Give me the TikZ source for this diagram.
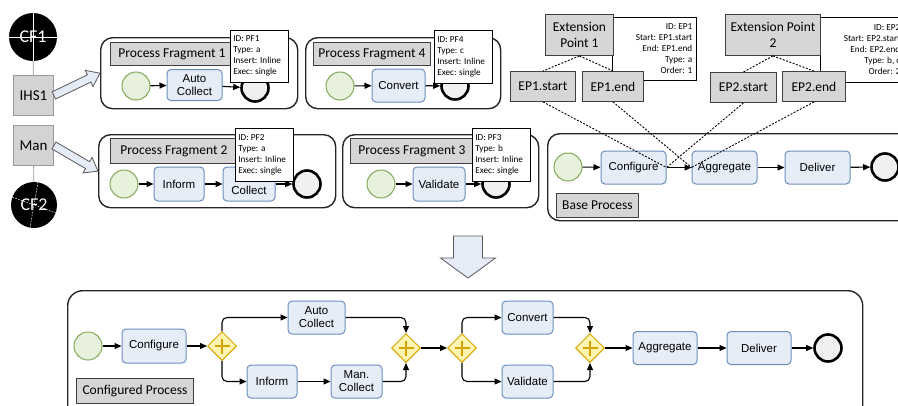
\documentclass[tikz,border=0pt]{standalone}
\usepackage{fontspec}
\setmainfont{Carlito}
\newfontfamily\arialfont{Liberation Sans}
\usetikzlibrary{arrows.meta,calc,shapes.geometric}

\definecolor{taskfill}{HTML}{E6EDF7}
\definecolor{taskline}{HTML}{6C8EBF}
\definecolor{startfill}{HTML}{E8F1DC}
\definecolor{startline}{HTML}{82A85A}
\definecolor{endfill}{HTML}{F0F0F0}
\definecolor{gwfill}{HTML}{FFF4B0}
\definecolor{gwline}{HTML}{D6A400}
\definecolor{lblfill}{HTML}{D6D6D6}
\definecolor{srcfill}{HTML}{D3D3D3}
\definecolor{srcline}{HTML}{999999}
\definecolor{arrowfill}{HTML}{E6ECF7}

% hollow block arrow: from, to, shaft half width, head half width, head length
\newcommand\hollowarrow[5]{%
  \draw[hollow] let \p1=(#1), \p2=(#2),
    \n1={atan2(\y2-\y1,\x2-\x1)}, \n2={veclen(\x2-\x1,\y2-\y1)} in
    ([shift={(\p1)},rotate=\n1]0pt,#3)
    -- ([shift={(\p1)},rotate=\n1]{\n2-#5},#3)
    -- ([shift={(\p1)},rotate=\n1]{\n2-#5},#4)
    -- ([shift={(\p1)},rotate=\n1]\n2,0pt)
    -- ([shift={(\p1)},rotate=\n1]{\n2-#5},-#4)
    -- ([shift={(\p1)},rotate=\n1]{\n2-#5},-#3)
    -- ([shift={(\p1)},rotate=\n1]0pt,-#3) -- cycle;}

\begin{document}
\begin{tikzpicture}[x=1pt, y=-1pt]

    \tikzset{frag/.style={%
      draw=black!85,%
      line width=1.4pt,%
      rounded corners=12pt,%
      fill=white,%
      anchor=north west,%
      inner sep=0pt}%
    };

    \tikzset{lbl/.style={draw=black!75, line width=0.9pt, fill=lblfill,
      anchor=north west, inner sep=0pt, align=center,
      font=\fontsize{13.5}{16}\selectfont}};
    \tikzset{src/.style={draw=srcline, line width=0.9pt, fill=srcfill,
      anchor=north west, inner sep=0pt, minimum width=40pt, minimum height=40pt,
      font=\fontsize{15}{17}\selectfont}};
    \tikzset{cfnode/.style={circle, fill=black, text=white, inner sep=0pt,
      font=\fontsize{18}{20}\selectfont}};
    \tikzset{task/.style={draw=taskline, line width=1pt, fill=taskfill,
      rounded corners=4pt, minimum height=33pt, inner sep=0pt, align=center,
      font=\arialfont\fontsize{11.5}{13}\selectfont}};
    \tikzset{startev/.style={circle, draw=startline, line width=1pt,
      fill=startfill, minimum size=28pt, inner sep=0pt}};
    \tikzset{endev/.style={circle, draw=black, line width=2.6pt,
      fill=endfill, minimum size=27pt, inner sep=0pt}};
    \tikzset{gateway/.style={diamond, draw=gwline, line width=1pt, fill=gwfill,
      minimum width=29pt, minimum height=29pt, inner sep=0pt,
      path picture={\draw[gwline, line width=1.3pt]
        ([xshift=-7.5pt]path picture bounding box.center) --
        ([xshift=7.5pt]path picture bounding box.center)
        ([yshift=-7.5pt]path picture bounding box.center) --
        ([yshift=7.5pt]path picture bounding box.center);}}};
    \tikzset{info/.style={draw=black, line width=0.6pt, fill=white,
      anchor=north west, inner xsep=3pt, inner ysep=0pt, align=flush left,
      text width=52pt, font=\fontsize{9.2}{11}\selectfont}};
    \tikzset{epinfo/.style={info, inner xsep=4pt, align=flush right, text width=76pt}};
    \tikzset{flow/.style={line width=1.1pt, -{Triangle[length=7pt, width=6pt]}}};
    \tikzset{hint/.style={line width=0.9pt, dash pattern=on 2pt off 1.5pt}};
    \tikzset{hollow/.style={draw=black!65, line width=0.8pt, fill=arrowfill}};

    \clip (0,0) rectangle (898,405);
    \fill[white] (0,0) rectangle (898,405);

    %%%%%%%%%%%%%%%
    %  sources    %
    %%%%%%%%%%%%%%%
    \node[cfnode, minimum size=48pt] (cf1) at (33,37) {CF1};
    \node[src] (ihs) at (13,75) {IHS1};
    \node[src] (man) at (13,125) {Man};
    \node[cfnode, minimum size=46pt] (cf2) at (34,205) {CF2};
    \draw[white, line width=0.4pt] (cf1.north) -- (cf1.south) (cf1.west) -- (cf1.east);
    \draw[white, line width=0.4pt, dash pattern=on 2pt off 1pt]
      (cf2.160) -- (cf2.340) (cf2.80) -- (cf2.260);
    \draw[srcline, line width=0.8pt] (cf1) -- (ihs);
    \draw[srcline, line width=0.8pt] (man) -- (cf2);

    %%%%%%%%%%%%%%%
    %  fragments  %
    %%%%%%%%%%%%%%%
    \node[frag, minimum width=197pt, minimum height=71pt] (pf1) at (100,37) {};
    \node[lbl, minimum width=123pt, minimum height=23pt] (pf1lbl) at (110,42) {Process Fragment 1};
    \node[startev] (s1) at (136,86) {};
    \node[task, minimum width=55pt, minimum height=31pt] (ac1) at (194.5,85) {Auto\\Collect};
    \node[endev] (e1) at (255,88) {};

    \node[frag, minimum width=195pt, minimum height=71pt] (pf4) at (305,37) {};
    \node[lbl, minimum width=117pt, minimum height=23pt] (pf4lbl) at (313,42) {Process Fragment 4};
    \node[startev] (s4) at (340,86) {};
    \node[task, minimum width=53pt] (cv4) at (398.5,85.5) {Convert};
    \node[endev] (e4) at (455,86) {};

    \node[frag, minimum width=237pt, minimum height=73pt] (pf2) at (98,134) {};
    \node[lbl, minimum width=127pt, minimum height=25pt] (pf2lbl) at (110,138) {Process Fragment 2};
    \node[startev] (s2) at (124,184) {};
    \node[task, minimum width=50pt, minimum height=34pt] (inf2) at (179,184) {Inform};
    \node[task, minimum width=52pt, minimum height=34pt] (mc2) at (249,184) {Man.\\Collect};
    \node[endev] (e2) at (307,184) {};

    \node[frag, minimum width=196pt, minimum height=73pt] (pf3) at (342,134) {};
    \node[lbl, minimum width=123pt, minimum height=25pt] (pf3lbl) at (350,138) {Process Fragment 3};
    \node[startev] (s3) at (381,184) {};
    \node[task, minimum width=52pt, minimum height=34pt] (val3) at (439,184) {Validate};
    \node[endev] (e3) at (496,184) {};

    \draw[flow] (s1) -- (ac1);
    \draw[flow] (ac1) -- (e1);
    \draw[flow] (s4) -- (cv4);
    \draw[flow] (cv4) -- (e4);
    \draw[flow] (s2) -- (inf2);
    \draw[flow] (inf2) -- (mc2);
    \draw[flow] (mc2) -- (e2);
    \draw[flow] (s3) -- (val3);
    \draw[flow] (val3) -- (e3);

    \node[info, minimum height=52pt] (pf1info) at (230,30) {ID: PF1\\Type: a\\Insert: Inline\\Exec: single};
    \node[info, minimum height=53pt] (pf4info) at (434,30) {ID: PF4\\Type: c\\Insert: Inline\\Exec: single};
    \node[info, minimum height=53pt] (pf2info) at (235,128) {ID: PF2\\Type: a\\Insert: Inline\\Exec: single};
    \node[info, minimum height=53pt] (pf3info) at (472,128) {ID: PF3\\Type: b\\Insert: Inline\\Exec: single};

    \hollowarrow{ihs.east}{pf1.west}{4pt}{9pt}{12pt}
    \hollowarrow{man.east}{pf2.west}{4pt}{9pt}{12pt}

    %%%%%%%%%%%%%%%
    %  base       %
    %%%%%%%%%%%%%%%
    \node[frag, minimum width=400pt, minimum height=87pt] (base) at (547,133) {};
    \node[lbl, minimum width=82pt, minimum height=24pt] (baselbl) at (556,193) {Base Process};
    \node[startev] (sb) at (568,167) {};
    \node[task, minimum width=65pt] (cfg) at (633.5,167.5) {Configure};
    \node[task, minimum width=65pt] (agg) at (724.5,167.5) {Aggregate};
    \node[task, minimum width=65pt] (dlv) at (817.5,167.5) {Deliver};
    \node[endev] (eb) at (885,167) {};

    \draw[flow] (sb) -- (cfg);
    \draw[flow] (cfg) -- (agg);
    \draw[flow] (agg) -- (dlv);
    \draw[flow] (dlv) -- (eb);

    %%%%%%%%%%%%%%%%%%%%
    %  extension points %
    %%%%%%%%%%%%%%%%%%%%
    \node[epinfo, minimum height=63pt] (ep1info) at (612,17) {ID: EP1\\Start: EP1.start\\End: EP1.end\\Type: a\\Order: 1};
    \node[epinfo, minimum height=65pt] (ep2info) at (820,17) {ID: EP2\\Start: EP2.start\\End: EP2.end\\Type: b, c\\Order: 2};
    \node[lbl, minimum width=68pt, minimum height=41pt] (ext1) at (545,14) {Extension\\Point 1};
    \node[lbl, minimum width=95pt, minimum height=41pt] (ext2) at (725,14) {Extension Point\\2};
    \node[lbl, minimum width=65pt, minimum height=30pt] (ep1s) at (510,71) {EP1.start};
    \node[lbl, minimum width=61pt, minimum height=30pt] (ep1e) at (582,71) {EP1.end};
    \node[lbl, minimum width=66pt, minimum height=30pt] (ep2s) at (710,72) {EP2.start};
    \node[lbl, minimum width=63pt, minimum height=30pt] (ep2e) at (782,71) {EP2.end};

    \draw[hint] (ext1.south) -- (ep1s.north);
    \draw[hint] (ext1.south) -- (ep1e.north);
    \draw[hint] (ext2.south) -- (ep2s.north);
    \draw[hint] (ext2.south) -- (ep2e.north);
    \draw[hint] (ep1s.south) -- (cfg.east);
    \draw[hint] (ep1e.south) -- (agg.west);
    \draw[hint] (ep2s.south) -- (cfg.east);
    \draw[hint] (ep2e.south) -- (agg.west);

    %%%%%%%%%%%%%%%
    %  configured %
    %%%%%%%%%%%%%%%
    \coordinate (dtop) at (468,236);
    \coordinate (dbot) at (468,278);
    \hollowarrow{dtop}{dbot}{14.5pt}{27.5pt}{20pt}

    \node[frag, minimum width=795pt, minimum height=130pt, rounded corners=15pt] (conf) at (67,290) {};
    \node[lbl, minimum width=117pt, minimum height=25pt] (conflbl) at (76,378) {Configured Process};
    \node[startev] (sc) at (88,346) {};
    \node[task, minimum width=64pt, minimum height=34pt] (bcfg) at (154,346) {Configure};
    \node[gateway] (gw1) at (222,346) {};
    \node[task, minimum width=57pt] (bac) at (316.5,317.5) {Auto\\Collect};
    \node[task, minimum width=50pt] (binf) at (272,381.5) {Inform};
    \node[task, minimum width=51pt] (bmc) at (356.5,381.5) {Man.\\Collect};
    \node[gateway] (gw2) at (406,348) {};
    \node[gateway] (gw3) at (462,348) {};
    \node[task, minimum width=51pt] (bcv) at (527.5,317.5) {Convert};
    \node[task, minimum width=51pt] (bval) at (527.5,381.5) {Validate};
    \node[gateway] (gw4) at (590,348) {};
    \node[task, minimum width=64pt] (bagg) at (665,348) {Aggregate};
    \node[task, minimum width=64pt] (bdlv) at (759,348) {Deliver};
    \node[endev] (ec) at (828,348) {};

    \draw[flow] (sc) -- (bcfg);
    \draw[flow] (bcfg) -- (gw1);
    \draw[flow, rounded corners=5pt] (gw1.north) |- (bac);
    \draw[flow, rounded corners=5pt] (gw1.south) |- (binf);
    \draw[flow] (binf) -- (bmc);
    \draw[flow, rounded corners=5pt] (bac.east) -| (gw2.north);
    \draw[flow, rounded corners=5pt] (bmc.east) -| (gw2.south);
    \draw[flow] (gw2) -- (gw3);
    \draw[flow, rounded corners=5pt] (gw3.north) |- (bcv);
    \draw[flow, rounded corners=5pt] (gw3.south) |- (bval);
    \draw[flow, rounded corners=5pt] (bcv.east) -| (gw4.north);
    \draw[flow, rounded corners=5pt] (bval.east) -| (gw4.south);
    \draw[flow] (gw4) -- (bagg);
    \draw[flow] (bagg) -- (bdlv);
    \draw[flow] (bdlv) -- (ec);

  \end{tikzpicture}
\end{document}
